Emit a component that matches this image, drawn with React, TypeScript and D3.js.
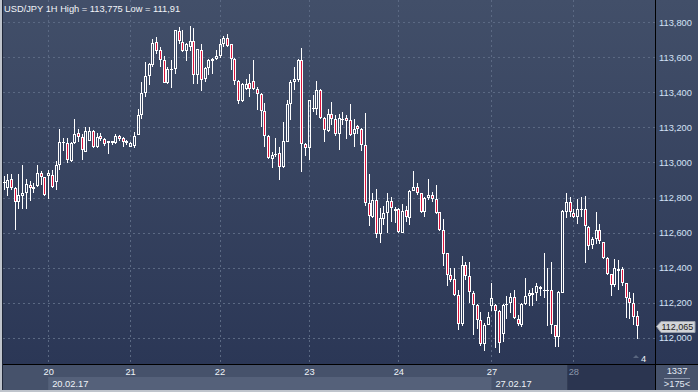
import React from 'react';
import * as d3 from 'd3';

// hourly USD/JPY candles, 20.02.17 - 28.02.17
const open = [
  112.883, 112.855, 112.906, 112.855, 112.774, 112.808, 112.823, 112.872, 112.849, 112.864,
  112.940, 112.915, 112.925, 112.928, 112.887, 112.985, 113.109, 113.113, 113.006, 113.109,
  113.166, 113.143, 113.062, 113.124, 113.179, 113.085, 113.149, 113.132, 113.109, 113.121,
  113.109, 113.153, 113.138, 113.124, 113.090, 113.096, 113.157, 113.268, 113.398, 113.491,
  113.553, 113.687, 113.641, 113.581, 113.455, 113.528, 113.534, 113.751, 113.685, 113.634,
  113.660, 113.694, 113.496, 113.641, 113.477, 113.540, 113.577, 113.587, 113.604, 113.672,
  113.709, 113.672, 113.591, 113.464, 113.351, 113.421, 113.453, 113.462, 113.421, 113.392,
  113.292, 113.151, 113.019, 113.043, 113.053, 112.974, 113.119, 113.332, 113.458, 113.472,
  113.585, 113.106, 113.081, 113.302, 113.302, 113.415, 113.251, 113.179, 113.273, 113.249,
  113.163, 113.245, 113.254, 113.239, 113.163, 113.205, 113.192, 113.097, 112.770, 112.690,
  112.785, 112.590, 112.675, 112.709, 112.779, 112.724, 112.732, 112.600, 112.728, 112.681,
  112.838, 112.859, 112.823, 112.715, 112.798, 112.813, 112.789, 112.715, 112.615, 112.482,
  112.359, 112.335, 112.246, 112.081, 112.416, 112.354, 112.255, 112.189, 112.104, 111.968,
  112.073, 112.180, 112.188, 112.156, 112.021, 112.186, 112.199, 112.231, 112.109, 112.073,
  112.195, 112.237, 112.246, 112.255, 112.278, 112.270, 112.270, 112.274, 112.073, 112.007,
  112.255, 112.715, 112.777, 112.712, 112.691, 112.731, 112.734, 112.631, 112.528, 112.565,
  112.612, 112.546, 112.458, 112.362, 112.302, 112.383, 112.391, 112.312, 112.227, 112.199,
  112.124,
];
const high = [
  112.921, 112.934, 112.936, 112.857, 112.936, 112.983, 112.906, 112.894, 112.883, 112.983,
  112.949, 112.917, 112.955, 112.955, 113.006, 113.189, 113.138, 113.138, 113.115, 113.247,
  113.189, 113.162, 113.204, 113.204, 113.185, 113.166, 113.166, 113.141, 113.124, 113.124,
  113.160, 113.156, 113.147, 113.128, 113.119, 113.172, 113.302, 113.458, 113.572, 113.566,
  113.704, 113.713, 113.660, 113.609, 113.543, 113.585, 113.757, 113.774, 113.755, 113.679,
  113.775, 113.766, 113.649, 113.672, 113.543, 113.591, 113.596, 113.638, 113.704, 113.723,
  113.732, 113.675, 113.596, 113.472, 113.453, 113.477, 113.506, 113.585, 113.430, 113.396,
  113.336, 113.157, 113.062, 113.138, 113.090, 113.232, 113.355, 113.468, 113.543, 113.591,
  113.653, 113.109, 113.357, 113.383, 113.462, 113.421, 113.260, 113.305, 113.343, 113.268,
  113.273, 113.290, 113.268, 113.330, 113.249, 113.211, 113.197, 113.281, 112.933, 112.823,
  112.848, 112.738, 112.753, 112.823, 112.804, 112.747, 112.738, 112.762, 112.751, 112.842,
  112.950, 112.880, 112.827, 112.804, 112.904, 112.832, 112.870, 112.719, 112.675, 112.486,
  112.397, 112.397, 112.274, 112.467, 112.435, 112.435, 112.265, 112.191, 112.146, 112.085,
  112.146, 112.312, 112.193, 112.158, 112.195, 112.237, 112.255, 112.274, 112.133, 112.197,
  112.340, 112.274, 112.284, 112.312, 112.297, 112.484, 112.396, 112.434, 112.075, 112.270,
  112.729, 112.824, 112.804, 112.734, 112.791, 112.804, 112.809, 112.640, 112.575, 112.716,
  112.650, 112.548, 112.460, 112.364, 112.447, 112.443, 112.402, 112.314, 112.259, 112.255,
  112.152,
];
const low = [
  112.845, 112.808, 112.845, 112.615, 112.736, 112.732, 112.736, 112.779, 112.826, 112.862,
  112.874, 112.808, 112.794, 112.855, 112.845, 112.958, 113.066, 112.996, 113.004, 113.107,
  113.119, 113.011, 113.060, 113.122, 113.081, 113.081, 113.124, 113.094, 113.047, 113.100,
  113.106, 113.124, 113.090, 113.100, 113.087, 113.081, 113.155, 113.245, 113.374, 113.440,
  113.543, 113.619, 113.543, 113.453, 113.449, 113.426, 113.506, 113.675, 113.628, 113.577,
  113.634, 113.445, 113.449, 113.406, 113.458, 113.496, 113.506, 113.581, 113.596, 113.657,
  113.657, 113.524, 113.440, 113.332, 113.345, 113.411, 113.374, 113.411, 113.298, 113.204,
  113.090, 113.019, 112.968, 113.030, 112.902, 112.968, 113.117, 113.241, 113.411, 113.458,
  112.943, 113.034, 113.011, 113.289, 113.270, 113.249, 113.119, 113.173, 113.211, 113.148,
  113.073, 113.211, 113.135, 113.148, 113.088, 113.160, 113.065, 112.751, 112.637, 112.681,
  112.567, 112.543, 112.643, 112.596, 112.662, 112.653, 112.600, 112.596, 112.662, 112.643,
  112.836, 112.813, 112.713, 112.690, 112.785, 112.776, 112.706, 112.609, 112.407, 112.293,
  112.316, 112.240, 112.043, 112.066, 112.331, 112.198, 112.019, 112.051, 111.953, 111.924,
  112.071, 112.152, 111.940, 111.914, 111.974, 112.105, 112.143, 112.105, 112.068, 112.064,
  112.190, 112.184, 112.180, 112.208, 112.237, 112.227, 112.068, 112.021, 111.949, 111.949,
  112.253, 112.684, 112.687, 112.684, 112.650, 112.687, 112.424, 112.500, 112.509, 112.537,
  112.537, 112.447, 112.359, 112.237, 112.289, 112.274, 112.293, 112.115, 112.105, 112.071,
  111.996,
];
const close = [
  112.890, 112.902, 112.855, 112.774, 112.817, 112.826, 112.879, 112.855, 112.860, 112.940,
  112.917, 112.817, 112.940, 112.860, 112.983, 113.115, 113.117, 113.011, 113.109, 113.160,
  113.143, 113.068, 113.177, 113.179, 113.087, 113.147, 113.132, 113.104, 113.121, 113.109,
  113.151, 113.132, 113.115, 113.109, 113.109, 113.153, 113.268, 113.398, 113.491, 113.558,
  113.681, 113.634, 113.581, 113.455, 113.534, 113.534, 113.755, 113.690, 113.634, 113.672,
  113.690, 113.496, 113.647, 113.472, 113.540, 113.585, 113.587, 113.604, 113.675, 113.709,
  113.666, 113.591, 113.462, 113.351, 113.449, 113.449, 113.421, 113.421, 113.392, 113.294,
  113.151, 113.024, 113.043, 113.049, 112.974, 113.123, 113.332, 113.458, 113.477, 113.585,
  113.106, 113.081, 113.355, 113.311, 113.415, 113.251, 113.185, 113.273, 113.249, 113.160,
  113.254, 113.249, 113.235, 113.154, 113.192, 113.192, 113.097, 112.770, 112.694, 112.785,
  112.592, 112.681, 112.713, 112.779, 112.738, 112.732, 112.605, 112.723, 112.687, 112.836,
  112.859, 112.823, 112.715, 112.798, 112.817, 112.789, 112.709, 112.615, 112.477, 112.356,
  112.331, 112.246, 112.079, 112.416, 112.354, 112.259, 112.189, 112.104, 111.966, 112.076,
  112.118, 112.227, 112.156, 111.970, 112.190, 112.195, 112.231, 112.115, 112.077, 112.195,
  112.237, 112.255, 112.255, 112.293, 112.289, 112.274, 112.274, 112.071, 112.007, 112.259,
  112.721, 112.777, 112.715, 112.691, 112.734, 112.734, 112.635, 112.522, 112.565, 112.616,
  112.550, 112.458, 112.364, 112.302, 112.396, 112.391, 112.312, 112.227, 112.199, 112.120,
  112.065,
];

const priceTicks = [112.0, 112.2, 112.4, 112.6, 112.8, 113.0, 113.2, 113.4, 113.6, 113.8];
const dayLabels = ['20', '21', '22', '23', '24', '27', '28'];
const dayIndex = [12, 34, 58, 82, 106, 131, 153];
const lastPrice = 112.065;

const W = 698;
const H = 392;
const plotL = 3;
const plotR = 655;
const plotB = 364;
const font = '"Liberation Sans", Arial, sans-serif';

export default function App() {
  const n = open.length;
  const x = d3.scaleLinear().domain([0, n - 1]).range([3.5, 636.7]);
  const y = d3.scaleLinear().domain([112.0, 113.8]).range([337.9, 22]);
  const fmt = (v: number) => d3.format('.3f')(v).replace('.', ',');

  const candles = d3.range(n).map((i) => {
    const px = Math.round(x(i));
    const up = close[i] >= open[i];
    const top = Math.round(y(Math.max(open[i], close[i])));
    let bot = Math.round(y(Math.min(open[i], close[i])));
    if (bot - top < 1) bot = top + 1;
    const hi = Math.round(y(high[i]));
    const lo = Math.round(y(low[i]));
    return (
      <g key={i}>
        {hi < top && <line x1={px + 0.5} x2={px + 0.5} y1={hi} y2={top} stroke="#fff" />}
        {lo > bot && <line x1={px + 0.5} x2={px + 0.5} y1={bot} y2={lo} stroke="#fff" />}
        <rect
          x={px - 0.5}
          y={top + 0.5}
          width={2}
          height={bot - top - 1 > 0 ? bot - top - 1 : 0.01}
          fill={up ? 'none' : '#dc143c'}
          stroke="#fff"
          strokeWidth={1}
        />
      </g>
    );
  });

  const ly = Math.round(y(lastPrice)) + 0.5;

  return (
    <svg width={W} height={H} style={{ position: 'fixed', left: 0, top: 0 }} fontFamily={font}>
      <defs>
        <linearGradient id="bg" x1="0" y1="0" x2="0" y2="1">
          <stop offset="0" stopColor="#424f69" />
          <stop offset="1" stopColor="#2b3756" />
        </linearGradient>
      </defs>
      <rect x={0} y={0} width={W} height={plotB} fill="url(#bg)" />
      {/* bottom time axis */}
      <rect x={0} y={plotB} width={W} height={H - plotB} fill="#46526b" />
      <rect x={x(dayIndex[0])} y={377} width={x(dayIndex[5]) - x(dayIndex[0])} height={13} fill="#55617a" />
      <rect x={568} y={plotB} width={plotR - 568} height={26} fill="#2b3550" />
      <line x1={567.5} x2={567.5} y1={plotB} y2={390} stroke="#333d55" />

      {/* grid */}
      {priceTicks.map((p) => (
        <line key={p} x1={plotL} x2={plotR} y1={Math.round(y(p)) + 0.5} y2={Math.round(y(p)) + 0.5}
          stroke="#5b6983" strokeDasharray="2,3" />
      ))}
      {dayIndex.map((d) => (
        <line key={d} x1={Math.round(x(d)) + 0.5} x2={Math.round(x(d)) + 0.5} y1={0} y2={plotB}
          stroke="#5b6983" strokeDasharray="2,3" />
      ))}

      {candles}

      {/* title */}
      <text x={4} y={12} fill="#f2f4f8" fontSize={9.3}>USD/JPY 1H High = 113,775 Low = 111,91</text>

      {/* price axis */}
      {priceTicks.map((p) => (
        <text key={p} x={659} y={y(p) + 3.5} fill="#d4e2f6" fontSize={9.3}>{fmt(p)}</text>
      ))}
      <path d={`M656.5,${ly} L661,${ly - 5} L695,${ly - 5} L695,${ly + 6} L661,${ly + 6} Z`} fill="#d2d4d8" stroke="#9aa0aa" />
      <text x={661.5} y={ly + 3.5} fill="#1c1c1c" fontSize={9}>{fmt(lastPrice)}</text>

      {/* bar counter */}
      <path d="M633,358 L636,355 L639,358 Z" fill="#59667f" />
      <text x={641} y={362} fill="#eef2f8" fontSize={9.3}>4</text>

      {dayLabels.map((lab, k) => (
        <text key={lab} x={x(dayIndex[k]) + 0.5} y={375} textAnchor="middle"
          fill={lab === '28' ? '#8a95aa' : '#eef2f8'} fontSize={9.3}>{lab}</text>
      ))}
      <text x={x(dayIndex[0]) + 4} y={387} fill="#eef2f8" fontSize={9.3}>20.02.17</text>
      <text x={x(dayIndex[5]) + 4} y={387} fill="#eef2f8" fontSize={9.3}>27.02.17</text>

      <text x={677} y={374} textAnchor="middle" fill="#e4eaf4" fontSize={9.3}>1337</text>
      <line x1={664} x2={690} y1={378.5} y2={378.5} stroke="#8a95aa" />
      <text x={677} y={387} textAnchor="middle" fill="#e4eaf4" fontSize={9.3}>&gt;175&lt;</text>

      {/* frame */}
      <line x1={plotR + 0.5} x2={plotR + 0.5} y1={0} y2={H} stroke="#000" />
      <line x1={plotL} x2={W} y1={plotB + 0.5} y2={plotB + 0.5} stroke="#000" />
      <rect x={0} y={0} width={2} height={H} fill="#bfc4cc" />
      <line x1={2.5} x2={2.5} y1={0} y2={H} stroke="#1e2638" />
      <rect x={0} y={390} width={W} height={2} fill="#bfc4cc" />
    </svg>
  );
}
